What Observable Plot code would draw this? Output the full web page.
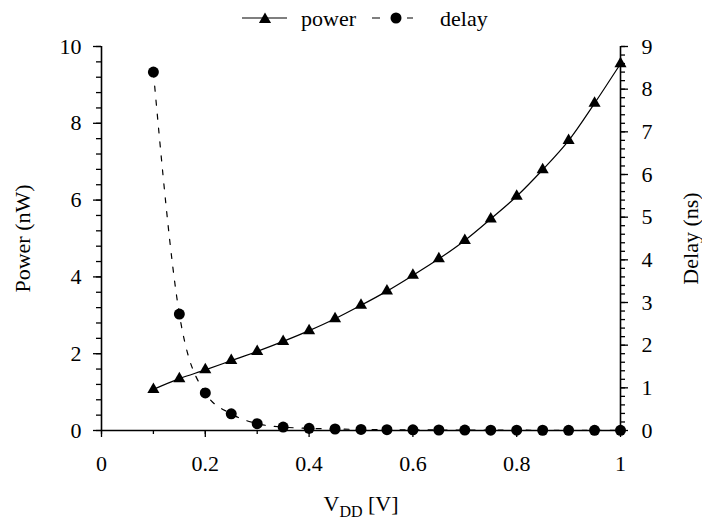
<!DOCTYPE html>
<html><head><meta charset="utf-8">
<script src="https://cdn.jsdelivr.net/npm/d3@7"></script>
<script src="https://cdn.jsdelivr.net/npm/@observablehq/plot@0.6"></script>
<style>
body{margin:0;background:#fff;}
#legend{position:relative;width:702px;height:32px;font-family:'Liberation Serif';font-size:22px;color:#000;}
#legend span{position:absolute;line-height:1;top:8px;white-space:nowrap;}
#legend svg{position:absolute;top:0;}
#chart svg text{font-family:'Liberation Serif';}
</style></head><body>
<div id="legend"></div>
<div id="chart"></div>
<script>
const vdd = [0.10,0.15,0.20,0.25,0.30,0.35,0.40,0.45,0.50,0.55,0.60,0.65,0.70,0.75,0.80,0.85,0.90,0.95,1.00];
const power = [1.07,1.35,1.58,1.82,2.06,2.32,2.60,2.91,3.26,3.63,4.04,4.47,4.95,5.51,6.10,6.79,7.55,8.52,9.55];
const delay = [8.40,2.73,0.88,0.39,0.16,0.08,0.05,0.035,0.025,0.02,0.015,0.012,0.01,0.008,0.007,0.006,0.005,0.005,0.004];
const xTickLabels = [0,0.2,0.4,0.6,0.8,1];
const xMinorTicks = [0,0.1,0.2,0.3,0.4,0.5,0.6,0.7,0.8,0.9,1];
const powerTickLabels = [0,2,4,6,8,10];
const powerMinorTicks = d3.range(0,26).map(i=>i*0.4);
const delayTickLabels = [0,1,2,3,4,5,6,7,8,9];
const delayMinorTicks = d3.range(0,46).map(i=>i*0.2);
const seriesNames = ["power","delay"];

const powerMax = 10, delayMax = 9;
const k = powerMax/delayMax;
const rows = vdd.map((v,i)=>({vdd:v, power:power[i], delay:delay[i], delayScaled:delay[i]*k}));

const FONT = "Liberation Serif";

// legend
const leg = d3.select("#legend");
const s1 = leg.append("svg").attr("width",50).attr("height",32).style("left","240px");
s1.append("line").attr("x1",2).attr("x2",47).attr("y1",18).attr("y2",18).attr("stroke","black").attr("stroke-width",1.2);
s1.append("path").attr("d",d3.symbol(d3.symbolTriangle,64)()).attr("transform","translate(25,19.5)").attr("fill","black");
leg.append("span").style("left","301px").text(seriesNames[0]);
const s2 = leg.append("svg").attr("width",50).attr("height",32).style("left","368px");
s2.append("line").attr("x1",4).attr("x2",45).attr("y1",18).attr("y2",18).attr("stroke","black").attr("stroke-width",1.2).attr("stroke-dasharray","8,27,6");
s2.append("circle").attr("cx",28).attr("cy",18).attr("r",5.5).attr("fill","black");
leg.append("span").style("left","440px").text(seriesNames[1]);

const chart = Plot.plot({
  width: 702,
  height: 487,
  marginLeft: 101,
  marginRight: 82,
  marginTop: 14,
  marginBottom: 89,
  style: {fontFamily: FONT, fontSize: "22px", color: "black", background: "white", overflow: "visible"},
  x: {domain: [0,1], label: null},
  y: {domain: [0,powerMax], label: null},
  marks: [
    Plot.axisX(xMinorTicks, {tickSize: 4, tickFormat: () => "", strokeWidth: 1.3, label: null}),
    Plot.axisX(xTickLabels, {tickSize: 7, tickPadding: 18, tickFormat: d => String(d), strokeWidth: 1.3, label: null, fontFamily: FONT}),
    Plot.axisY(powerMinorTicks, {anchor: "left", tickSize: 5, tickFormat: () => "", strokeWidth: 1.3, label: null}),
    Plot.axisY(powerTickLabels, {anchor: "left", tickSize: 8, tickPadding: 12, tickFormat: d => String(d), strokeWidth: 1.3, label: null, fontFamily: FONT}),
    Plot.axisY(delayMinorTicks.map(d => d*k), {anchor: "right", tickSize: 4, tickFormat: () => "", strokeWidth: 1.3, label: null}),
    Plot.axisY(delayTickLabels.map(d => d*k), {anchor: "right", tickSize: 7, tickPadding: 14, tickFormat: v => String(Math.round(v/k)), strokeWidth: 1.3, label: null, fontFamily: FONT}),
    Plot.ruleX([0], {strokeWidth: 1.6}),
    Plot.ruleX([1], {strokeWidth: 1.6}),
    Plot.ruleY([0], {strokeWidth: 1.6}),
    Plot.line(rows, {x: "vdd", y: "delayScaled", curve: "monotone-x", strokeDasharray: "5,9", strokeWidth: 1.2}),
    Plot.line(rows, {x: "vdd", y: "power", curve: "catmull-rom", strokeWidth: 1.2}),
    Plot.dot(rows, {x: "vdd", y: "delayScaled", r: 5.5, fill: "black"}),
    Plot.dot(rows, {x: "vdd", y: "power", symbol: "triangle", r: 4.5, fill: "black"}),
    Plot.text(["Power (nW)"], {text: d => d, frameAnchor: "left", textAnchor: "middle", rotate: -90, dx: -79, fontSize: 22}),
    Plot.text(["Delay (ns)"], {text: d => d, frameAnchor: "right", textAnchor: "middle", rotate: -90, dx: 70, fontSize: 22}),
    Plot.text(["VDD [V]"], {text: d => d, frameAnchor: "bottom", textAnchor: "middle", dy: 80, fontSize: 22})
  ]
});
document.getElementById("chart").appendChild(chart);

// subscript for V_DD
d3.select(chart).selectAll("text").filter(function(){ return this.textContent === "VDD [V]"; }).each(function(){
  const t = d3.select(this);
  t.text(null);
  t.append("tspan").text("V");
  t.append("tspan").attr("font-size", 16).attr("dy", "6").text("DD");
  t.append("tspan").attr("dy", "-6").text(" [V]");
});
</script>
</body></html>
